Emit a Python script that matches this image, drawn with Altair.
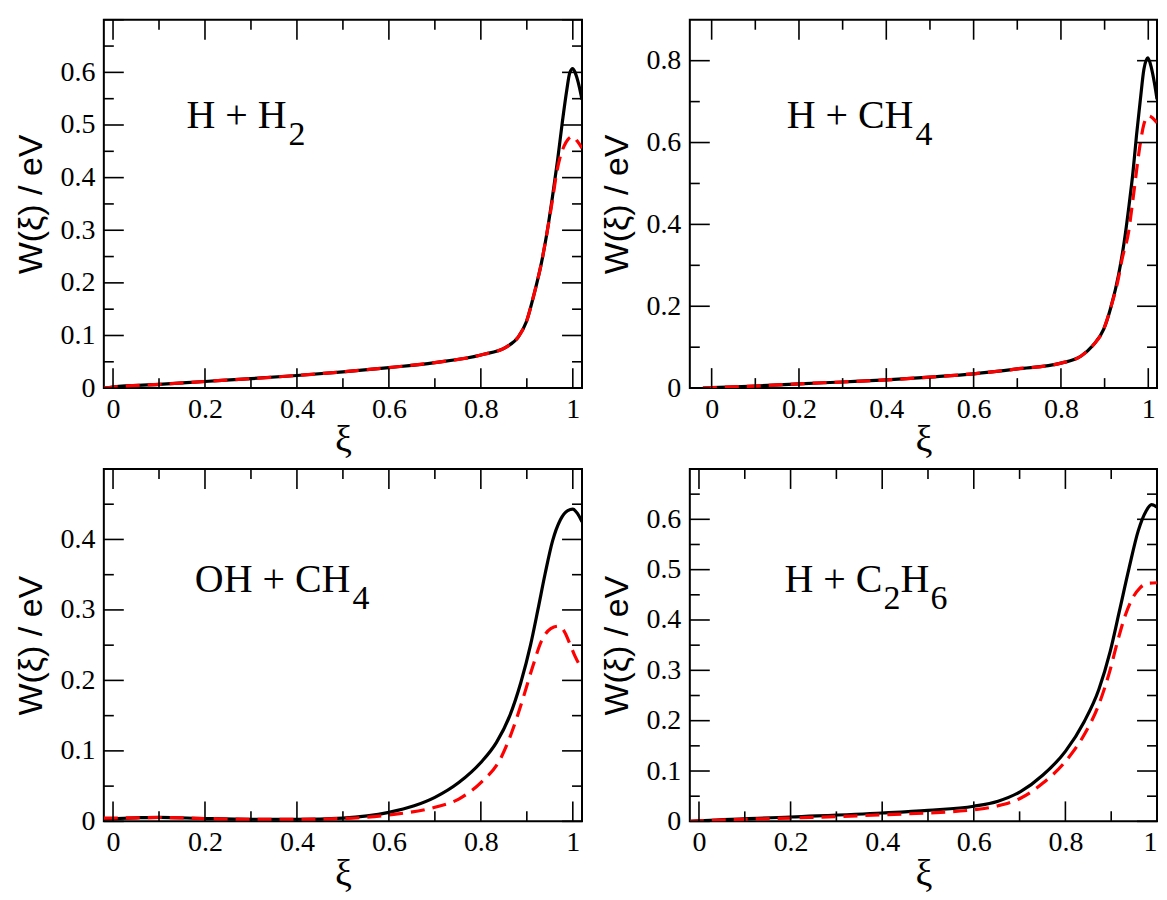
import altair as alt
import pandas as pd

# ---------------- data ----------------
# Panel A : H + H2
a_black_x = [-0.02, 0.0, 0.1, 0.2, 0.3, 0.4, 0.5, 0.6, 0.7, 0.8, 0.857, 0.882, 0.899, 0.915, 0.932,
             0.944, 0.956, 0.967, 0.977, 0.987, 0.993, 1.0, 1.007, 1.014, 1.02]
a_black_y = [0.0, 0.002, 0.007, 0.0126, 0.018, 0.024, 0.031, 0.039, 0.0485, 0.063, 0.079, 0.098, 0.126, 0.176, 0.239,
             0.296, 0.365, 0.434, 0.504, 0.567, 0.598, 0.607, 0.595, 0.573, 0.548]
a_red_x = [-0.02, 0.0, 0.1, 0.2, 0.3, 0.4, 0.5, 0.6, 0.7, 0.8, 0.857, 0.882, 0.899, 0.915, 0.932,
           0.944, 0.958, 0.964, 0.971, 0.981, 0.989, 1.0, 1.01, 1.02]
a_red_y = [0.0, 0.002, 0.007, 0.0126, 0.018, 0.024, 0.031, 0.039, 0.0485, 0.063, 0.079, 0.098, 0.126, 0.176, 0.239,
           0.296, 0.37, 0.405, 0.434, 0.46, 0.472, 0.478, 0.469, 0.456]

# Panel B : H + CH4
b_black_x = [-0.02, 0.0, 0.1, 0.2, 0.3, 0.4, 0.5, 0.6, 0.7, 0.8, 0.847, 0.873, 0.898, 0.915, 0.932,
             0.945, 0.956, 0.965, 0.973, 0.982, 0.99, 0.999, 1.007, 1.014, 1.02]
b_black_y = [0.0, 0.001, 0.005, 0.0105, 0.015, 0.020, 0.027, 0.035, 0.047, 0.061, 0.079, 0.104, 0.144, 0.2, 0.277,
             0.358, 0.447, 0.528, 0.617, 0.706, 0.779, 0.807, 0.783, 0.746, 0.706]
b_red_x = [-0.02, 0.0, 0.1, 0.2, 0.3, 0.4, 0.5, 0.6, 0.7, 0.8, 0.847, 0.873, 0.898, 0.915, 0.93,
           0.94, 0.955, 0.963, 0.970, 0.976, 0.982, 0.990, 1.0, 1.01, 1.02]
b_red_y = [0.0, 0.001, 0.005, 0.0105, 0.015, 0.020, 0.027, 0.035, 0.047, 0.061, 0.079, 0.104, 0.144, 0.2, 0.26,
           0.315, 0.382, 0.445, 0.504, 0.555, 0.60, 0.645, 0.665, 0.66, 0.648]

# Panel C : OH + CH4
c_black_x = [-0.02, 0.05, 0.1, 0.2, 0.3, 0.4, 0.5, 0.6, 0.655, 0.7, 0.752, 0.8, 0.834, 0.863, 0.887,
             0.908, 0.924, 0.94, 0.956, 0.973, 0.989, 1.0, 1.01, 1.02]
c_black_y = [0.0033, 0.005, 0.0057, 0.004, 0.003, 0.003, 0.0047, 0.0127, 0.022, 0.034, 0.055, 0.0835, 0.112, 0.15, 0.197,
             0.25, 0.30, 0.352, 0.398, 0.428, 0.441, 0.443, 0.437, 0.425]
c_red_x = [-0.02, 0.05, 0.1, 0.2, 0.3, 0.4, 0.5, 0.6, 0.7, 0.752, 0.8, 0.842, 0.867, 0.891, 0.912,
           0.932, 0.952, 0.969, 0.981, 0.993, 1.005, 1.02]
c_red_y = [0.0047, 0.005, 0.0055, 0.004, 0.003, 0.003, 0.004, 0.009, 0.02, 0.0316, 0.055, 0.088, 0.126, 0.173, 0.218,
           0.256, 0.2735, 0.277, 0.27, 0.253, 0.234, 0.216]

# Panel D : H + C2H6
d_black_x = [-0.02, 0.0, 0.2, 0.4, 0.5, 0.6, 0.653, 0.702, 0.751, 0.8, 0.841, 0.873, 0.898, 0.918,
             0.939, 0.959, 0.976, 0.988, 1.0]
d_black_y = [0.0, 0.001, 0.0086, 0.0166, 0.022, 0.030, 0.040, 0.059, 0.092, 0.139, 0.198, 0.262, 0.338, 0.418,
             0.503, 0.577, 0.616, 0.629, 0.624]
d_red_x = [-0.02, 0.0, 0.2, 0.4, 0.6, 0.653, 0.702, 0.751, 0.8, 0.841, 0.873, 0.898, 0.914, 0.931,
           0.947, 0.963, 0.98, 1.0]
d_red_y = [0.0, 0.001, 0.0066, 0.013, 0.023, 0.031, 0.046, 0.076, 0.119, 0.172, 0.232, 0.302, 0.358, 0.41,
           0.444, 0.464, 0.473, 0.474]

# axis ticks
x_major = [0.0, 0.2, 0.4, 0.6, 0.8, 1.0]
x_minor = [0.1, 0.3, 0.5, 0.7, 0.9]
y_major_a = [0.0, 0.1, 0.2, 0.3, 0.4, 0.5, 0.6, 0.7]
y_minor_a = [0.05, 0.15, 0.25, 0.35, 0.45, 0.55, 0.65]
y_labels_a = [0.0, 0.1, 0.2, 0.3, 0.4, 0.5, 0.6]
y_major_b = [0.0, 0.2, 0.4, 0.6, 0.8]
y_minor_b = [0.1, 0.3, 0.5, 0.7]
y_labels_b = [0.0, 0.2, 0.4, 0.6, 0.8]
y_major_c = [0.0, 0.1, 0.2, 0.3, 0.4, 0.5]
y_minor_c = [0.05, 0.15, 0.25, 0.35, 0.45]
y_labels_c = [0.0, 0.1, 0.2, 0.3, 0.4]
y_major_d = y_major_a
y_minor_d = y_minor_a
y_labels_d = y_labels_a

# annotation texts: (main text, subscript parts)
label_a = ["H + H", "2"]
label_b = ["H + CH", "4"]
label_c = ["OH + CH", "4"]
label_d = ["H + C", "2", "H", "6"]

SERIF = "Liberation Serif"
SANS = "Liberation Sans"
MAIN_FS = 40
SUB_FS = 34
SUB_DROP = 17
TICK_FS = 28
TICK_MAJOR = 20
TICK_MINOR = 10
LINE_W = 3.2


def make_panel(bx, by, rx, ry, xdom, ydom, ymaj, ymin, ylab, w, h, texts, flush=False):
    xs = alt.Scale(domain=xdom, nice=False, zero=False)
    ys = alt.Scale(domain=ydom, nice=False, zero=False)
    xaxis = alt.Axis(values=x_major, format=".1~f", ticks=False, domain=False, grid=False,
                     labelFont=SERIF, labelFontSize=TICK_FS, labelColor="black", labelPadding=7,
                     labelFlush=(6 if flush else False),
                     title="ξ", titleFont=SERIF, titleFontSize=38, titleFontWeight="normal",
                     titleColor="black", titleX=w / 2, titleY=64, titleBaseline="alphabetic")
    yaxis = alt.Axis(values=ylab, format=".1~f", ticks=False, domain=False, grid=False,
                     labelFont=SERIF, labelFontSize=TICK_FS, labelColor="black", labelPadding=9,
                     labelFlush=False,
                     title="W(ξ) / eV", titleFont=SANS, titleFontSize=34, titleFontWeight="normal",
                     titleColor="black", titleX=-62, titleY=h / 2, titleAngle=270,
                     titleAlign="center", titleBaseline="alphabetic")
    X = alt.X("x:Q", scale=xs, axis=xaxis)
    Y = alt.Y("y:Q", scale=ys, axis=yaxis)

    bdf = pd.DataFrame({"x": bx, "y": by})
    rdf = pd.DataFrame({"x": rx, "y": ry})
    black = alt.Chart(bdf).mark_line(color="black", strokeWidth=LINE_W, clip=True,
                                     interpolate="monotone").encode(x=X, y=Y)
    red = alt.Chart(rdf).mark_line(color="#ff0000", strokeWidth=LINE_W, clip=True, strokeDash=[14, 8],
                                   interpolate="monotone").encode(x=X, y=Y)

    layers = [black, red]
    for vals, L in ((x_major, TICK_MAJOR), (x_minor, TICK_MINOR)):
        df = pd.DataFrame({"x": vals})
        layers.append(alt.Chart(df).mark_rule(color="black", strokeWidth=1.6).encode(
            x=X, y=alt.value(h), y2=alt.value(h - L)))
        layers.append(alt.Chart(df).mark_rule(color="black", strokeWidth=1.6).encode(
            x=X, y=alt.value(0), y2=alt.value(L)))
    for vals, L in ((ymaj, TICK_MAJOR), (ymin, TICK_MINOR)):
        df = pd.DataFrame({"y": vals})
        layers.append(alt.Chart(df).mark_rule(color="black", strokeWidth=1.6).encode(
            y=Y, x=alt.value(0), x2=alt.value(L)))
        layers.append(alt.Chart(df).mark_rule(color="black", strokeWidth=1.6).encode(
            y=Y, x=alt.value(w), x2=alt.value(w - L)))

    for (txt, px, py, fs, align) in texts:
        layers.append(alt.Chart(pd.DataFrame({"t": [txt]})).mark_text(
            font=SERIF, fontSize=fs, color="black", align=align, baseline="alphabetic").encode(
            text="t:N", x=alt.value(px), y=alt.value(py)))

    return alt.layer(*layers).properties(width=w, height=h)


W1, W2 = 479, 468
H1, H2 = 369, 353

pa = make_panel(a_black_x, a_black_y, a_red_x, a_red_y, [-0.02, 1.02], [0, 0.7],
                y_major_a, y_minor_a, y_labels_a, W1, H1,
                [(label_a[0], 183, 108, MAIN_FS, "right"),
                 (label_a[1], 185, 108 + SUB_DROP, SUB_FS, "left")])
pb = make_panel(b_black_x, b_black_y, b_red_x, b_red_y, [-0.05, 1.02], [0, 0.9],
                y_major_b, y_minor_b, y_labels_b, W2, H1,
                [(label_b[0], 224, 108, MAIN_FS, "right"),
                 (label_b[1], 226, 108 + SUB_DROP, SUB_FS, "left")])
pc = make_panel(c_black_x, c_black_y, c_red_x, c_red_y, [-0.02, 1.02], [0, 0.5],
                y_major_c, y_minor_c, y_labels_c, W1, H2,
                [(label_c[0], 247, 123, MAIN_FS, "right"),
                 (label_c[1], 249, 123 + SUB_DROP, SUB_FS, "left")])
pd_ = make_panel(d_black_x, d_black_y, d_red_x, d_red_y, [-0.02, 1.0], [0, 0.7],
                 y_major_d, y_minor_d, y_labels_d, W2, H2,
                 [(label_d[0], 193, 123, MAIN_FS, "right"),
                  (label_d[1], 194, 123 + SUB_DROP, SUB_FS, "left"),
                  (label_d[2], 211, 123, MAIN_FS, "left"),
                  (label_d[3], 241, 123 + SUB_DROP, SUB_FS, "left")],
                 flush=True)

chart = alt.concat(pa, pb, pc, pd_, columns=2, spacing={"row": 6, "column": 16}).properties(
    padding={"left": 6, "top": 9, "right": 0, "bottom": 0},
    background="white",
).configure_view(
    stroke="black", strokeWidth=2
)

chart.save("out.html", embed_options={"renderer": "svg", "actions": False})
